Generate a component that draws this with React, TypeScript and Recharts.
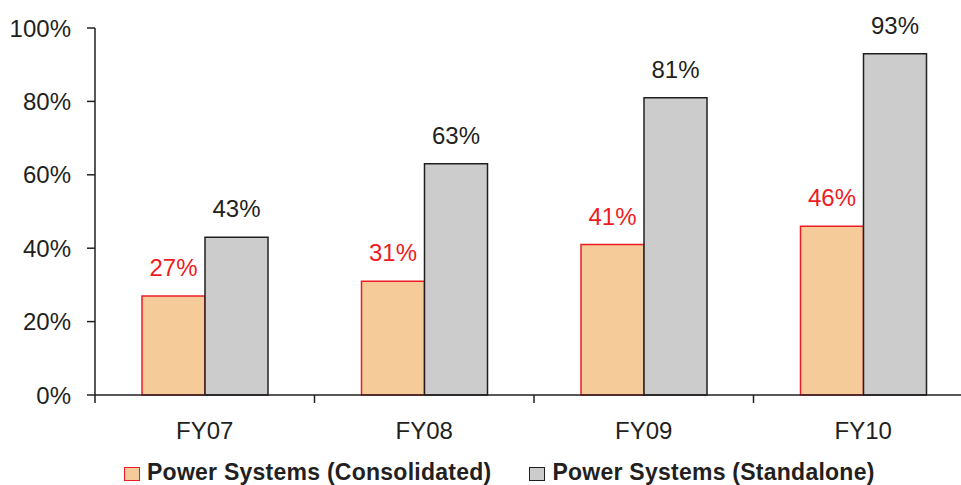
import {BarChart, Bar, XAxis, YAxis, Legend, LabelList} from "recharts";

const years = ["FY07", "FY08", "FY09", "FY10"];
const consolidated = [27, 31, 41, 46];
const standalone = [43, 63, 81, 93];
const yTicks = [0, 20, 40, 60, 80, 100];

const data = years.map((year, i) => ({
  year,
  consolidated: consolidated[i],
  standalone: standalone[i],
}));

const INK = "#231f20";
const RED = "#ed1c24";
const PEACH = "#f6cb9a";
const GREY = "#cccccc";
const FONT = "'Liberation Sans', Arial, sans-serif";

// category label in the middle, tick mark on the left edge of each band
const YearTick = (props: any) => {
  const {x, y, payload, index, visibleTicksCount} = props;
  const half = payload.offset ?? 109.75;
  const last = index === visibleTicksCount - 1;
  return (
    <g>
      <line x1={x - half} x2={x - half} y1={y} y2={y + 8} stroke={INK} strokeWidth={1.5} />
      {last && <line x1={x + half} x2={x + half} y1={y} y2={y + 8} stroke={INK} strokeWidth={1.5} />}
      <text x={x} y={y + 44} textAnchor='middle' fill={INK} fontSize={24} fontFamily={FONT}>
        {payload.value}
      </text>
    </g>
  );
};

const LegendBox = () => {
  const items = [
    {name: "Power Systems (Consolidated)", fill: PEACH, stroke: RED},
    {name: "Power Systems (Standalone)", fill: GREY, stroke: INK},
  ];
  return (
    <div style={{display: "flex", alignItems: "center", fontFamily: FONT, fontWeight: "bold", fontSize: 23, lineHeight: "22px", color: INK, whiteSpace: "nowrap"}}>
      {items.map((it, i) => (
        <div key={it.name} style={{display: "flex", alignItems: "center", marginLeft: i ? 38 : 0}}>
          <span style={{display: "inline-block", width: 14, height: 12, background: it.fill, border: `1.5px solid ${it.stroke}`, marginRight: 7, marginTop: 3}} />
          <span style={{letterSpacing: 0.25}}>{it.name}</span>
        </div>
      ))}
    </div>
  );
};

const App = () => {
  return (
    <div style={{position: "absolute", left: 0, top: 0, width: 961, height: 485, overflow: "hidden", background: "#fff"}}>
      <BarChart width={980} height={485} data={data} margin={{top: 28, right: 7, left: 0, bottom: 0}} barGap={0} barSize={63}>
        <YAxis
          width={95}
          domain={[0, 100]}
          ticks={yTicks}
          interval={0}
          tickFormatter={(v: number) => `${v}%`}
          tickSize={8}
          tickMargin={16}
          axisLine={{stroke: INK, strokeWidth: 1.5}}
          tickLine={{stroke: INK, strokeWidth: 1.5}}
          tick={{fill: INK, fontSize: 24, fontFamily: FONT}}
        />
        <XAxis
          dataKey='year'
          height={90}
          interval={0}
          tickSize={0}
          tickMargin={0}
          tickLine={false}
          axisLine={{stroke: INK, strokeWidth: 1.5}}
          tick={<YearTick />}
        />
        <Legend verticalAlign='middle' align='center' wrapperStyle={{top: 461, left: 124, width: "auto", height: "auto"}} content={<LegendBox />} />
        <Bar dataKey='consolidated' fill={PEACH} stroke={RED} strokeWidth={1.5} isAnimationActive={false}>
          <LabelList dataKey='consolidated' position='top' offset={20} formatter={(v: any) => `${v}%`} fill={RED} fontSize={24} fontFamily={FONT} />
        </Bar>
        <Bar dataKey='standalone' fill={GREY} stroke={INK} strokeWidth={1.5} isAnimationActive={false}>
          <LabelList dataKey='standalone' position='top' offset={20} formatter={(v: any) => `${v}%`} fill={INK} fontSize={24} fontFamily={FONT} />
        </Bar>
      </BarChart>
    </div>
  );
};

export default App;
